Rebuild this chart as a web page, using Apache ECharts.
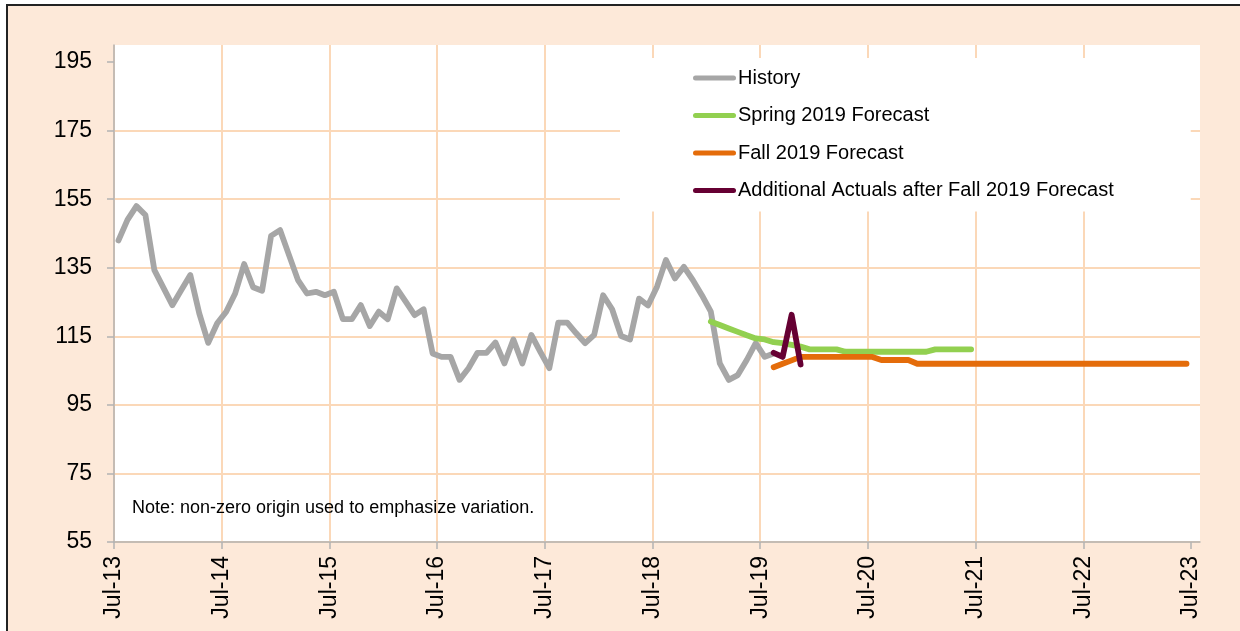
<!DOCTYPE html>
<html>
<head>
<meta charset="utf-8">
<title>Forecast chart</title>
<script src="https://cdn.jsdelivr.net/npm/echarts@6/dist/echarts.min.js"></script>
<style>
  body { margin: 0; background: #fff; overflow: hidden; }
  #frame {
    position: absolute; left: 6px; top: 4px; width: 1250px; height: 650px;
    border-left: 2px solid #222; border-top: 2px solid #222;
    background: #FDE9D9;
  }
  #chart { position: absolute; left: 0; top: 0; width: 1240px; height: 631px; }
</style>
</head>
<body>
<div id="frame"></div>
<div id="chart"></div>
<script>
// months counted from Jul-13, points sit mid-month
const xTickLabels = ['Jul-13', 'Jul-14', 'Jul-15', 'Jul-16', 'Jul-17', 'Jul-18', 'Jul-19', 'Jul-20', 'Jul-21', 'Jul-22', 'Jul-23']
const yTicks = [55, 75, 95, 115, 135, 155, 175, 195]

const historyStart = 0
const historyValues = [
  143, 149, 153, 150.4, 134.3, 129.2, 124.1, 128.5, 132.9, 121.7, 113.1, 118.8,
  122.2, 127.5, 136.1, 129.3, 128.3, 144.3, 146, 138.7, 131.4, 127.5, 128, 127,
  128, 120, 120, 124.1, 118, 122.2, 120, 129, 125.1, 121.2, 122.9, 110,
  109, 109, 102.3, 105.7, 110.2, 110.2, 113.2, 107.1, 114.1, 107.1, 115.4, 110.5,
  105.7, 119, 119, 115.9, 113, 115.4, 127, 122.9, 115.1, 114.1, 126, 124,
  129.5, 137.3, 131.9, 135.3, 131.4, 127, 122.2, 107.1, 102.3, 103.7, 108.1, 113,
  109, 110
]

const springStart = 66
const springValues = [
  119.3, 118.3, 117.3, 116.3, 115.3, 114.4, 114.1, 113.3, 113, 112.5, 112, 111.2,
  111.2, 111.2, 111.2, 110.5, 110.5, 110.5, 110.5, 110.5, 110.5, 110.5, 110.5, 110.5,
  110.5, 111.2, 111.2, 111.2, 111.2, 111.2
]

const fallStart = 73
const fallValues = [
  106, 107, 108, 109, 109, 109, 109, 109, 109, 109, 109, 109,
  108.1, 108.1, 108.1, 108.1,
  107, 107, 107, 107, 107, 107, 107, 107, 107, 107, 107, 107,
  107, 107, 107, 107, 107, 107, 107, 107, 107, 107, 107, 107,
  107, 107, 107, 107, 107, 107, 107
]

const actualsStart = 73
const actualsValues = [110.2, 109, 121.3, 106.8]

const seriesNames = ['History', 'Spring 2019 Forecast', 'Fall 2019 Forecast', 'Additional Actuals after Fall 2019 Forecast']
const seriesColors = ['#A6A6A6', '#92D050', '#E46C0A', '#660033']

function toPoints(start, values) {
  return values.map((v, i) => [start + i + 0.5, v])
}

const chart = echarts.init(document.getElementById('chart'), null, {renderer: 'canvas'})
const font = "'Liberation Sans', Arial, sans-serif"
const gridColor = '#FBD8B8'
const axisColor = '#B3B3B3'
const lineIcon = 'path://M2.5,0 H40.5 A2.5,2.5 0 0 1 40.5,5 H2.5 A2.5,2.5 0 0 1 2.5,0 Z'

const option = {
  backgroundColor: 'transparent',
  animation: false,
  title: {
    text: 'Note: non-zero origin used to emphasize variation.',
    left: 132,
    top: 499,
    padding: 0,
    textStyle: {fontFamily: font, fontSize: 18, fontWeight: 'normal', color: '#000'}
  },
  legend: {
    data: seriesNames.map((n) => ({name: n, icon: lineIcon})),
    orient: 'vertical',
    left: 620,
    top: 58,
    padding: [9, 77, 10, 73],
    backgroundColor: '#fff',
    itemWidth: 43,
    itemHeight: 5,
    itemGap: 15.5,
    textStyle: {fontFamily: font, fontSize: 20, color: '#000', lineHeight: 22, padding: [0, 0, 0, -3]}
  },
  grid: {
    left: 114,
    right: 40,
    top: 45,
    bottom: 89,
    show: true,
    backgroundColor: '#fff',
    borderWidth: 0
  },
  xAxis: {
    type: 'value',
    min: 0,
    max: 121,
    interval: 12,
    axisLine: {show: true, lineStyle: {color: axisColor, width: 1.5}},
    axisTick: {show: true, length: 7, lineStyle: {color: axisColor, width: 1.5},
      customValues: xTickLabels.map((t, i) => i * 12)},
    splitLine: {show: true, showMaxLine: false, lineStyle: {color: gridColor, width: 2}},
    axisLabel: {
      customValues: xTickLabels.map((t, i) => i * 12),
      rotate: 90,
      margin: 14,
      fontFamily: font,
      fontSize: 23,
      color: '#000',
      formatter: (v) => xTickLabels[Math.round(v / 12)]
    }
  },
  yAxis: {
    type: 'value',
    min: 55,
    max: 200,
    interval: 20,
    axisLine: {show: true, lineStyle: {color: axisColor, width: 1.5}},
    axisTick: {show: true, length: 7, lineStyle: {color: axisColor, width: 1.5}, customValues: yTicks},
    splitLine: {show: true, showMaxLine: false, lineStyle: {color: gridColor, width: 2}},
    axisLabel: {customValues: yTicks, margin: 22, fontFamily: font, fontSize: 23, color: '#000'}
  },
  series: [
    [historyStart, historyValues],
    [springStart, springValues],
    [fallStart, fallValues],
    [actualsStart, actualsValues]
  ].map((s, i) => ({
    name: seriesNames[i],
    type: 'line',
    data: toPoints(s[0], s[1]),
    showSymbol: false,
    symbol: 'none',
    itemStyle: {color: seriesColors[i]},
    lineStyle: {width: 5.8, color: seriesColors[i], join: 'round', cap: 'round'}
  }))
}

chart.setOption(option)
</script>
</body>
</html>
